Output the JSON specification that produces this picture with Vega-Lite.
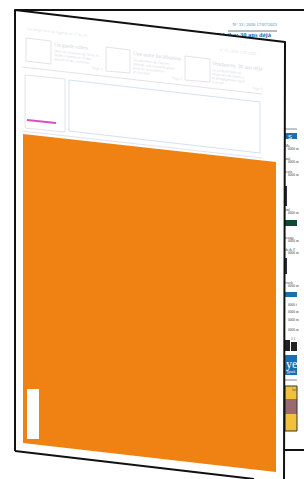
{
  "$schema": "https://vega.github.io/schema/vega-lite/v6.json",
  "width": 304,
  "height": 479,
  "padding": 0,
  "autosize": {"type": "none"},
  "background": "white",
  "config": {"view": {"stroke": null}, "axis": {"disable": true}},
  "datasets": {
    "areas": [
      {"a": "front", "x": 15, "y": 10, "y2": 451},
      {"a": "front", "x": 284, "y": 42, "y2": 483},
      {"a": "orange", "x": 23, "y": 134, "y2": 443},
      {"a": "orange", "x": 276, "y": 162, "y2": 472}
    ],
    "rects": [
      {"k": "blue", "x": 285, "x2": 297, "y": 133, "y2": 139},
      {"k": "navy", "x": 285, "x2": 287, "y": 186, "y2": 206},
      {"k": "green", "x": 285, "x2": 297, "y": 220, "y2": 226},
      {"k": "navy", "x": 285, "x2": 287, "y": 258, "y2": 274},
      {"k": "blue", "x": 285, "x2": 297, "y": 292, "y2": 297},
      {"k": "black", "x": 285, "x2": 290, "y": 340, "y2": 351},
      {"k": "black", "x": 291, "x2": 297, "y": 342, "y2": 351},
      {"k": "blue", "x": 285, "x2": 297, "y": 355, "y2": 375},
      {"k": "yellow", "x": 285, "x2": 297, "y": 386, "y2": 431},
      {"k": "photo", "x": 285, "x2": 297, "y": 399, "y2": 414},
      {"k": "white", "x": 27, "x2": 39, "y": 389, "y2": 439}
    ],
    "lines": [
      {"k": "black", "s": "backtop", "o": 1, "x": 15, "y": 10},
      {"k": "black", "s": "backtop", "o": 2, "x": 304, "y": 10},
      {"k": "black", "s": "backbot", "o": 1, "x": 284, "y": 450},
      {"k": "black", "s": "backbot", "o": 2, "x": 304, "y": 450},
      {"k": "black", "s": "front", "o": 1, "x": 15, "y": 451},
      {"k": "black", "s": "front", "o": 2, "x": 15, "y": 10},
      {"k": "black", "s": "front", "o": 3, "x": 285, "y": 42},
      {"k": "black", "s": "front", "o": 4, "x": 284, "y": 479},
      {"k": "black", "s": "frontbot", "o": 1, "x": 15, "y": 451},
      {"k": "black", "s": "frontbot", "o": 2, "x": 254, "y": 479},
      {"k": "dark", "s": "backrule", "o": 1, "x": 228, "y": 31},
      {"k": "dark", "s": "backrule", "o": 2, "x": 277, "y": 31},
      {"k": "grey", "s": "strip1", "o": 1, "x": 285, "y": 129},
      {"k": "grey", "s": "strip1", "o": 2, "x": 297, "y": 129},
      {"k": "grey", "s": "strip2", "o": 1, "x": 285, "y": 380},
      {"k": "grey", "s": "strip2", "o": 2, "x": 297, "y": 380},
      {"k": "faint", "s": "box1", "o": 1, "x": 26, "y": 38},
      {"k": "faint", "s": "box1", "o": 2, "x": 51, "y": 41},
      {"k": "faint", "s": "box1", "o": 3, "x": 51, "y": 64},
      {"k": "faint", "s": "box1", "o": 4, "x": 26, "y": 61},
      {"k": "faint", "s": "box1", "o": 5, "x": 26, "y": 38},
      {"k": "faint", "s": "box2", "o": 1, "x": 106, "y": 47},
      {"k": "faint", "s": "box2", "o": 2, "x": 130, "y": 50},
      {"k": "faint", "s": "box2", "o": 3, "x": 130, "y": 73},
      {"k": "faint", "s": "box2", "o": 4, "x": 106, "y": 71},
      {"k": "faint", "s": "box2", "o": 5, "x": 106, "y": 47},
      {"k": "faint", "s": "box3", "o": 1, "x": 185, "y": 56},
      {"k": "faint", "s": "box3", "o": 2, "x": 210, "y": 59},
      {"k": "faint", "s": "box3", "o": 3, "x": 210, "y": 82},
      {"k": "faint", "s": "box3", "o": 4, "x": 185, "y": 80},
      {"k": "faint", "s": "box3", "o": 5, "x": 185, "y": 56},
      {"k": "faint", "s": "left", "o": 1, "x": 25, "y": 75},
      {"k": "faint", "s": "left", "o": 2, "x": 65, "y": 79},
      {"k": "faint", "s": "left", "o": 3, "x": 65, "y": 132},
      {"k": "faint", "s": "left", "o": 4, "x": 25, "y": 128},
      {"k": "faint", "s": "left", "o": 5, "x": 25, "y": 75},
      {"k": "faint", "s": "sep1", "o": 1, "x": 22, "y": 67},
      {"k": "faint", "s": "sep1", "o": 2, "x": 262, "y": 94},
      {"k": "faint", "s": "sep2", "o": 1, "x": 22, "y": 131},
      {"k": "faint", "s": "sep2", "o": 2, "x": 262, "y": 158},
      {"k": "lightblue", "s": "big", "o": 1, "x": 69, "y": 80},
      {"k": "lightblue", "s": "big", "o": 2, "x": 260, "y": 102},
      {"k": "lightblue", "s": "big", "o": 3, "x": 260, "y": 153},
      {"k": "lightblue", "s": "big", "o": 4, "x": 69, "y": 131},
      {"k": "lightblue", "s": "big", "o": 5, "x": 69, "y": 80},
      {"k": "pink", "s": "pink", "o": 1, "x": 27, "y": 120},
      {"k": "pink", "s": "pink", "o": 2, "x": 56, "y": 123}
    ],
    "backtexts": [
      {"k": "num", "t": "N° 33 | 2020 17/07/2022", "x": 277, "y": 25},
      {"k": "head", "t": "Tchéka: 30 ans déjà", "x": 271, "y": 35}
    ],
    "striptexts": [
      {"t": "Ma", "x": 285, "y": 146}, {"t": "0000 m", "x": 288, "y": 149},
      {"t": "mal", "x": 285, "y": 159}, {"t": "0000 m", "x": 288, "y": 162},
      {"t": "ieufa", "x": 285, "y": 172}, {"t": "0000 m", "x": 288, "y": 175},
      {"t": "lmé", "x": 285, "y": 210}, {"t": "0000 m", "x": 288, "y": 213},
      {"t": "tenage", "x": 285, "y": 238}, {"t": "0000 m", "x": 288, "y": 241},
      {"t": "ds de F", "x": 285, "y": 250}, {"t": "0000 m", "x": 288, "y": 253},
      {"t": "louch", "x": 285, "y": 283}, {"t": "0000 m", "x": 288, "y": 286},
      {"t": "0000 t", "x": 288, "y": 305}, {"t": "0000 m", "x": 288, "y": 312},
      {"t": "0000 m", "x": 288, "y": 320}, {"t": "0000 m", "x": 288, "y": 330},
      {"t": "1.1", "x": 291, "y": 339}
    ],
    "whitetexts": [
      {"k": "s", "t": "S", "x": 290, "y": 137},
      {"k": "ye", "t": "ye", "x": 286, "y": 364},
      {"k": "small", "t": "ypsah", "x": 287, "y": 372},
      {"k": "tiny", "t": "lui !", "x": 292, "y": 390}
    ],
    "fronttexts": [
      {"k": "tiny", "t": "Les temps forts de l'agenda du 17 au 24", "x": 27, "y": 29},
      {"k": "head", "t": "Un garde-robes", "x": 54, "y": 44},
      {"k": "body", "t": "Dans les armoires de Nina, la", "x": 54, "y": 51},
      {"k": "body", "t": "mode s'invente au fil des", "x": 54, "y": 55},
      {"k": "body", "t": "saisons et des souvenirs", "x": 54, "y": 59},
      {"k": "tiny", "t": "Page 4", "x": 92, "y": 68},
      {"k": "head", "t": "Une autre localisation", "x": 133, "y": 53},
      {"k": "body", "t": "Au carrefour de l'ancien", "x": 133, "y": 60},
      {"k": "body", "t": "marché, une nouvelle place", "x": 133, "y": 64},
      {"k": "body", "t": "pour les associations", "x": 133, "y": 68},
      {"k": "body", "t": "et riverains", "x": 133, "y": 72},
      {"k": "tiny", "t": "Page 6", "x": 172, "y": 78},
      {"k": "tiny", "t": "N° 33 | 2020 17/07/2022", "x": 219, "y": 50},
      {"k": "head", "t": "Tendances: 30 ans déjà", "x": 212, "y": 63},
      {"k": "body", "t": "Le collectif fête ses", "x": 212, "y": 70},
      {"k": "body", "t": "trente ans de création", "x": 212, "y": 74},
      {"k": "body", "t": "et d'engagement local", "x": 212, "y": 78},
      {"k": "body", "t": "culturel", "x": 212, "y": 82},
      {"k": "tiny", "t": "Page 8", "x": 252, "y": 88}
    ]
  },
  "encoding": {
    "x": {"type": "quantitative", "scale": {"domain": [0, 304], "range": [0, 304], "zero": false, "nice": false}, "axis": null},
    "y": {"type": "quantitative", "scale": {"domain": [0, 479], "range": [0, 479], "zero": false, "nice": false}, "axis": null}
  },
  "layer": [
    {
      "data": {"name": "backtexts"},
      "transform": [{"filter": "datum.k === 'num'"}],
      "mark": {"type": "text", "align": "right", "baseline": "middle", "font": "Liberation Sans Narrow", "fontSize": 4.5, "color": "#3a86c6"},
      "encoding": {"x": {"field": "x"}, "y": {"field": "y"}, "text": {"field": "t"}}
    },
    {
      "data": {"name": "backtexts"},
      "transform": [{"filter": "datum.k === 'head'"}],
      "mark": {"type": "text", "align": "right", "baseline": "middle", "font": "Liberation Sans Narrow", "fontWeight": "bold", "fontSize": 6.5, "color": "#1b68a8"},
      "encoding": {"x": {"field": "x"}, "y": {"field": "y"}, "text": {"field": "t"}}
    },
    {
      "data": {"name": "rects"},
      "transform": [{"filter": "datum.k !== 'white'"}],
      "mark": {"type": "rect"},
      "encoding": {
        "x": {"field": "x"}, "x2": {"field": "x2"}, "y": {"field": "y"}, "y2": {"field": "y2"},
        "color": {"field": "k", "type": "nominal", "legend": null,
          "scale": {"domain": ["blue", "navy", "green", "black", "yellow", "photo"], "range": ["#1a6fae", "#2a2f45", "#0e4a33", "#222222", "#f1c13b", "#9a6a6e"]}}
      }
    },
    {
      "data": {"name": "rects"},
      "transform": [{"filter": "datum.k === 'yellow'"}],
      "mark": {"type": "rect", "fill": null, "filled": false, "stroke": "#333333", "strokeWidth": 1},
      "encoding": {"x": {"field": "x"}, "x2": {"field": "x2"}, "y": {"field": "y"}, "y2": {"field": "y2"}}
    },
    {
      "data": {"name": "striptexts"},
      "mark": {"type": "text", "align": "left", "baseline": "middle", "font": "Liberation Sans Narrow", "fontSize": 3.5, "color": "#444444"},
      "encoding": {"x": {"field": "x"}, "y": {"field": "y"}, "text": {"field": "t"}}
    },
    {
      "data": {"name": "whitetexts"},
      "transform": [{"filter": "datum.k === 's'"}],
      "mark": {"type": "text", "align": "center", "baseline": "middle", "font": "Liberation Sans", "fontSize": 6, "color": "white"},
      "encoding": {"x": {"field": "x"}, "y": {"field": "y"}, "text": {"field": "t"}}
    },
    {
      "data": {"name": "whitetexts"},
      "transform": [{"filter": "datum.k === 'ye'"}],
      "mark": {"type": "text", "align": "left", "baseline": "middle", "font": "Liberation Serif", "fontSize": 12, "color": "white"},
      "encoding": {"x": {"field": "x"}, "y": {"field": "y"}, "text": {"field": "t"}}
    },
    {
      "data": {"name": "whitetexts"},
      "transform": [{"filter": "datum.k === 'small'"}],
      "mark": {"type": "text", "align": "left", "baseline": "middle", "font": "Liberation Sans Narrow", "fontSize": 3.5, "color": "white"},
      "encoding": {"x": {"field": "x"}, "y": {"field": "y"}, "text": {"field": "t"}}
    },
    {
      "data": {"name": "whitetexts"},
      "transform": [{"filter": "datum.k === 'tiny'"}],
      "mark": {"type": "text", "align": "left", "baseline": "middle", "font": "Liberation Sans Narrow", "fontSize": 3.5, "color": "#1a4a80"},
      "encoding": {"x": {"field": "x"}, "y": {"field": "y"}, "text": {"field": "t"}}
    },
    {
      "data": {"name": "lines"},
      "transform": [{"filter": "datum.k === 'grey'"}],
      "mark": {"type": "line", "color": "#888888", "strokeWidth": 1},
      "encoding": {"x": {"field": "x"}, "y": {"field": "y"}, "detail": {"field": "s"}, "order": {"field": "o"}}
    },
    {
      "data": {"name": "lines"},
      "transform": [{"filter": "datum.k === 'dark'"}],
      "mark": {"type": "line", "color": "#555555", "strokeWidth": 0.8},
      "encoding": {"x": {"field": "x"}, "y": {"field": "y"}, "detail": {"field": "s"}, "order": {"field": "o"}}
    },
    {
      "data": {"name": "areas"},
      "transform": [{"filter": "datum.a === 'front'"}],
      "mark": {"type": "area", "color": "white", "opacity": 1, "clip": true},
      "encoding": {"x": {"field": "x"}, "y": {"field": "y"}, "y2": {"field": "y2"}}
    },
    {
      "data": {"name": "lines"},
      "transform": [{"filter": "datum.k === 'faint'"}],
      "mark": {"type": "line", "color": "#e4e4e8", "strokeWidth": 1},
      "encoding": {"x": {"field": "x"}, "y": {"field": "y"}, "detail": {"field": "s"}, "order": {"field": "o"}}
    },
    {
      "data": {"name": "lines"},
      "transform": [{"filter": "datum.k === 'lightblue'"}],
      "mark": {"type": "line", "color": "#d3e2f1", "strokeWidth": 1},
      "encoding": {"x": {"field": "x"}, "y": {"field": "y"}, "detail": {"field": "s"}, "order": {"field": "o"}}
    },
    {
      "data": {"name": "lines"},
      "transform": [{"filter": "datum.k === 'pink'"}],
      "mark": {"type": "line", "color": "#dc4fc0", "strokeWidth": 1.8},
      "encoding": {"x": {"field": "x"}, "y": {"field": "y"}, "detail": {"field": "s"}, "order": {"field": "o"}}
    },
    {
      "data": {"name": "fronttexts"},
      "transform": [{"filter": "datum.k === 'head'"}],
      "mark": {"type": "text", "align": "left", "baseline": "middle", "angle": 6.5, "font": "Liberation Sans Narrow", "fontSize": 5.5, "color": "#cdd5e1"},
      "encoding": {"x": {"field": "x"}, "y": {"field": "y"}, "text": {"field": "t"}}
    },
    {
      "data": {"name": "fronttexts"},
      "transform": [{"filter": "datum.k === 'body'"}],
      "mark": {"type": "text", "align": "left", "baseline": "middle", "angle": 6.5, "font": "Liberation Sans Narrow", "fontSize": 3.8, "color": "#d6dae1"},
      "encoding": {"x": {"field": "x"}, "y": {"field": "y"}, "text": {"field": "t"}}
    },
    {
      "data": {"name": "fronttexts"},
      "transform": [{"filter": "datum.k === 'tiny'"}],
      "mark": {"type": "text", "align": "left", "baseline": "middle", "angle": 6.5, "font": "Liberation Sans Narrow", "fontSize": 3.8, "color": "#dcdfe5"},
      "encoding": {"x": {"field": "x"}, "y": {"field": "y"}, "text": {"field": "t"}}
    },
    {
      "data": {"name": "areas"},
      "transform": [{"filter": "datum.a === 'orange'"}],
      "mark": {"type": "area", "color": "#ef8212", "opacity": 1},
      "encoding": {"x": {"field": "x"}, "y": {"field": "y"}, "y2": {"field": "y2"}}
    },
    {
      "data": {"name": "rects"},
      "transform": [{"filter": "datum.k === 'white'"}],
      "mark": {"type": "rect", "color": "white"},
      "encoding": {"x": {"field": "x"}, "x2": {"field": "x2"}, "y": {"field": "y"}, "y2": {"field": "y2"}}
    },
    {
      "data": {"name": "lines"},
      "transform": [{"filter": "datum.k === 'black'"}],
      "mark": {"type": "line", "color": "#111111", "strokeWidth": 2, "strokeJoin": "round", "clip": true},
      "encoding": {"x": {"field": "x"}, "y": {"field": "y"}, "detail": {"field": "s"}, "order": {"field": "o"}}
    }
  ]
}
